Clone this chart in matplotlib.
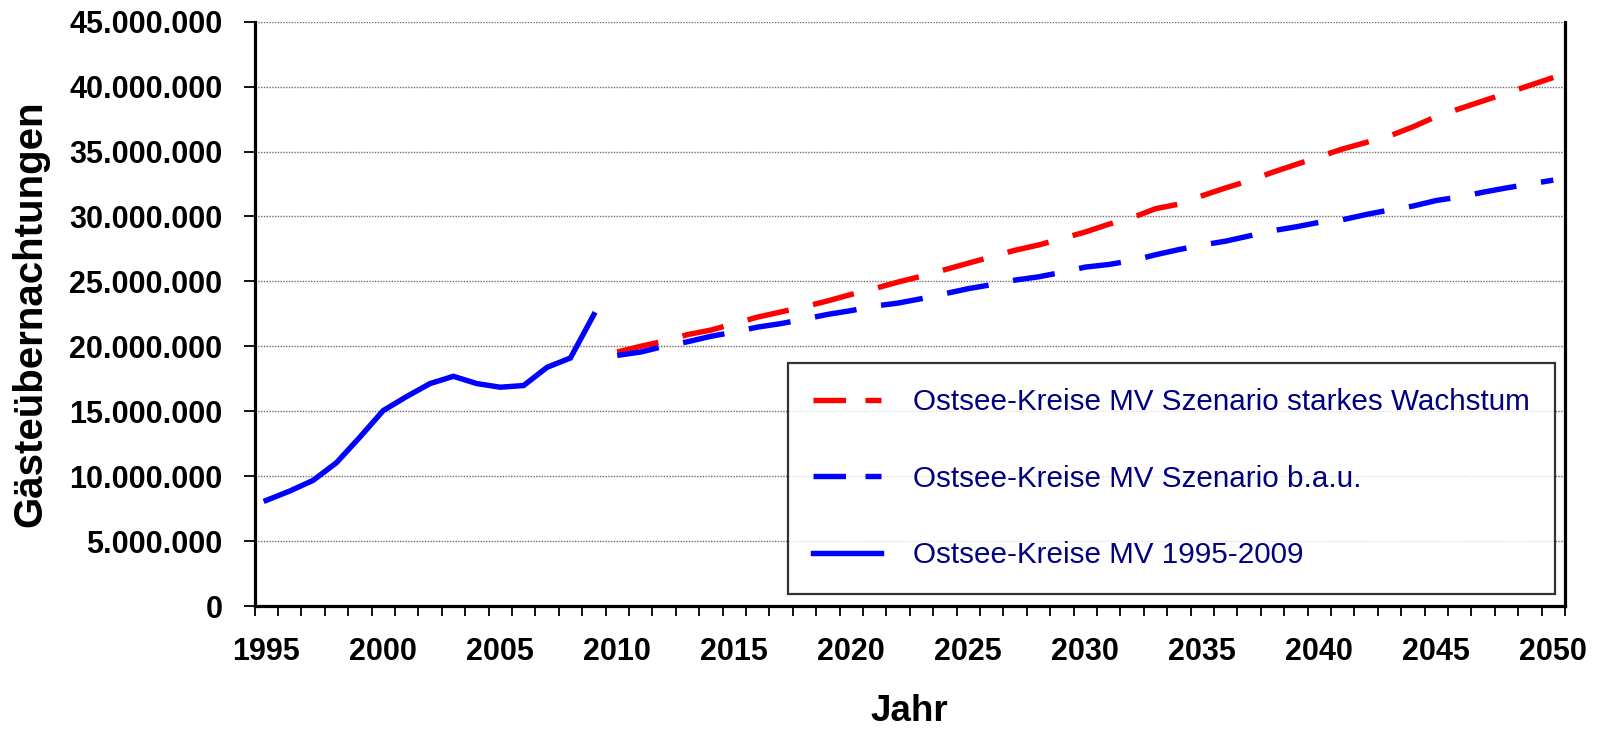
import numpy as np
import matplotlib
matplotlib.use('Agg')
import matplotlib.pyplot as plt
from matplotlib.lines import Line2D
from matplotlib.ticker import FixedLocator, FuncFormatter

# Gästeübernachtungen, Ostsee-Kreise MV (in Mio.)
years_hist = [1995, 1996, 1997, 1998, 1999, 2000, 2001, 2002, 2003, 2004,
              2005, 2006, 2007, 2008, 2009]
values_hist = [8.13, 8.85, 9.67, 11.03, 13.0, 15.05, 16.13, 17.13, 17.69, 17.13,
               16.85, 16.98, 18.38, 19.1, 22.44]

years_proj = list(range(2010, 2051))
values_starkes = [19.56, 20.0, 20.4, 20.9, 21.25, 21.75, 22.25, 22.65, 23.05, 23.5,
                  24.0, 24.45, 24.95, 25.4, 25.9, 26.4, 26.9, 27.4, 27.8, 28.3,
                  28.8, 29.4, 29.9, 30.6, 30.95, 31.6, 32.2, 32.75, 33.4, 34.0,
                  34.6, 35.2, 35.7, 36.2, 36.9, 37.7, 38.3, 38.9, 39.5, 40.1,
                  40.7]
values_bau = [19.3, 19.56, 20.0, 20.35, 20.77, 21.1, 21.48, 21.75, 22.1, 22.46,
              22.75, 23.1, 23.33, 23.67, 24.05, 24.44, 24.75, 25.1, 25.35, 25.7,
              26.1, 26.3, 26.6, 27.05, 27.45, 27.8, 28.1, 28.5, 28.9, 29.2,
              29.55, 29.75, 30.15, 30.5, 30.8, 31.23, 31.5, 31.87, 32.2, 32.5,
              32.8]

label_starkes = 'Ostsee-Kreise MV Szenario starkes Wachstum'
label_bau = 'Ostsee-Kreise MV Szenario b.a.u.'
label_hist = 'Ostsee-Kreise MV 1995-2009'

year_labels = [1995, 2000, 2005, 2010, 2015, 2020, 2025, 2030, 2035, 2040, 2045, 2050]
y_ticks = [0, 5e6, 10e6, 15e6, 20e6, 25e6, 30e6, 35e6, 40e6, 45e6]

plt.rcParams['font.family'] = ['Liberation Sans', 'DejaVu Sans']

fig = plt.figure(figsize=(16, 7.29), dpi=100)
ax = fig.add_axes([254.5 / 1600, 1 - 606 / 729, (1565 - 254.5) / 1600, (606 - 21.7) / 729])

lw = 3.9
dash = (0, (7.8, 4.6))
ax.plot(years_proj, np.array(values_starkes) * 1e6, color='#ff0000', lw=lw,
        linestyle=dash, dash_capstyle='butt', zorder=3)
ax.plot(years_proj, np.array(values_bau) * 1e6, color='#0000ff', lw=lw,
        linestyle=dash, dash_capstyle='butt', zorder=3)
ax.plot(years_hist, np.array(values_hist) * 1e6, color='#0000ff', lw=lw,
        solid_joinstyle='miter', zorder=3)

ax.set_xlim(1994.5, 2050.5)
ax.set_ylim(0, 45e6)

# category axis: labels in the middle, ticks between the years
ax.xaxis.set_major_locator(FixedLocator(year_labels))
ax.xaxis.set_minor_locator(FixedLocator(np.arange(1994.5, 2051, 1.0)))
ax.tick_params(axis='x', which='major', length=0, pad=22, labelsize=22)
ax.tick_params(axis='x', which='minor', length=7.5, width=1.3, direction='out')
for lab in ax.get_xticklabels():
    lab.set_fontweight('bold')

ax.yaxis.set_major_locator(FixedLocator(y_ticks))
ax.yaxis.set_major_formatter(FuncFormatter(lambda v, p: f'{int(round(v)):,}'.replace(',', '.')))
ax.tick_params(axis='y', length=8, width=1.3, direction='out', pad=15, labelsize=22)
for lab in ax.get_yticklabels():
    lab.set_fontweight('bold')

ax.grid(True, axis='y', color='#6e6e6e', linestyle=(0, (1, 1)), linewidth=1.0)
ax.set_axisbelow(True)

ax.spines['top'].set_visible(False)
for side in ['left', 'bottom', 'right']:
    ax.spines[side].set_linewidth(2.3)
    ax.spines[side].set_color('black')

ax.set_xlabel('Jahr', fontsize=26.5, fontweight='bold', labelpad=20)
ax.set_ylabel('Gästeübernachtungen', fontsize=29, fontweight='bold', labelpad=14)

# legend handles: the dashes there are drawn shorter than in the plot
handles = [
    Line2D([], [], color='#ff0000', lw=lw, linestyle=(0, (6.0, 3.6)), dash_capstyle='butt'),
    Line2D([], [], color='#0000ff', lw=lw, linestyle=(0, (6.0, 3.6)), dash_capstyle='butt'),
    Line2D([], [], color='#0000ff', lw=lw),
]
leg = ax.legend(handles, [label_starkes, label_bau, label_hist],
                loc='upper left', bbox_to_anchor=(788 / 1600, 1 - 363 / 729),
                bbox_transform=fig.transFigure, fontsize=21.3, frameon=True,
                fancybox=False, edgecolor='black', borderpad=0.85, labelspacing=1.64,
                handlelength=2.28, handletextpad=1.08, borderaxespad=0)
leg.get_frame().set_linewidth(1.6)
for t in leg.get_texts():
    t.set_color('#000080')

plt.savefig('out.png', dpi=100)
